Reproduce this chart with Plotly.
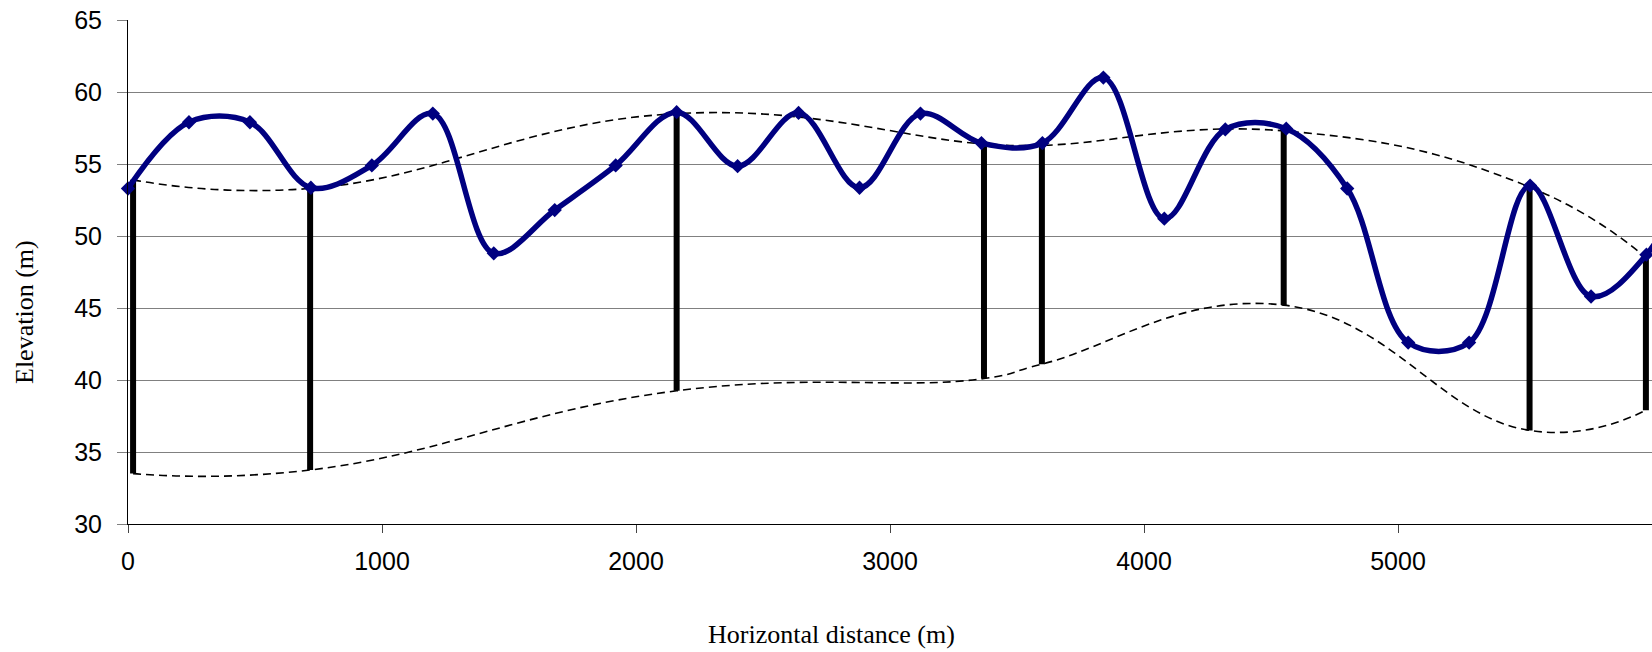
import plotly.graph_objects as go

# Ground profile (m)
profile_dist = [0, 240, 480, 720, 960, 1200, 1440, 1680, 1920, 2160, 2400, 2640, 2880,
                3120, 3360, 3600, 3840, 4080, 4320, 4560, 4800, 5040, 5280, 5520, 5760,
                5978, 6220]
profile_elev = [53.3, 57.9, 57.9, 53.35, 54.9, 58.5, 48.8, 51.8, 54.9, 58.6, 54.85, 58.55,
                53.35, 58.5, 56.45, 56.45, 61.0, 51.2, 57.4, 57.45, 53.3, 42.6, 42.6, 53.5,
                45.8, 48.7, 57.0]

# Boreholes: position, top and bottom elevation
bore_dist = [20, 717, 2160, 3370, 3598, 4550, 5518, 5976]
bore_top = [53.9, 53.3, 58.5, 56.4, 56.3, 57.3, 53.4, 48.5]
bore_bottom = [33.5, 33.75, 39.25, 40.1, 41.1, 45.2, 36.5, 37.9]

x_ticks = [0, 1000, 2000, 3000, 4000, 5000]
y_ticks = [30, 35, 40, 45, 50, 55, 60, 65]

fig = go.Figure()

# borehole sticks
bx, by = [], []
for d, t, b in zip(bore_dist, bore_top, bore_bottom):
    bx += [d, d, None]
    by += [b, t, None]
fig.add_trace(go.Scatter(x=bx, y=by, mode="lines",
                         line=dict(color="black", width=6), showlegend=False,
                         hoverinfo="skip"))

# upper and lower dashed envelopes
fig.add_trace(go.Scatter(x=bore_dist, y=bore_top, mode="lines",
                         line=dict(color="black", width=1.6, dash="8px,5px",
                                   shape="spline", smoothing=1.3),
                         showlegend=False))
fig.add_trace(go.Scatter(x=bore_dist, y=bore_bottom, mode="lines",
                         line=dict(color="black", width=1.6, dash="8px,5px",
                                   shape="spline", smoothing=1.3),
                         showlegend=False))

# ground profile
fig.add_trace(go.Scatter(x=profile_dist, y=profile_elev, mode="lines+markers",
                         line=dict(color="#000080", width=5.5, shape="spline", smoothing=1),
                         marker=dict(symbol="diamond", size=11, color="#000080"),
                         cliponaxis=False, showlegend=False))

fig.update_layout(
    width=1652, height=652,
    margin=dict(l=128, r=0, t=20, b=128),
    paper_bgcolor="white", plot_bgcolor="white",
    showlegend=False,
    font=dict(family="Liberation Sans, Arial, sans-serif", size=25, color="black"),
)

fig.update_xaxes(
    range=[0, 6000], tickvals=x_ticks, ticktext=[str(v) for v in x_ticks],
    showgrid=False, zeroline=False,
    showline=True, linecolor="black", linewidth=1,
    ticks="outside", ticklen=8, tickcolor="#444", tickwidth=1,
    ticklabelstandoff=7,
    tickfont=dict(family="Liberation Sans, Arial, sans-serif", size=25, color="black"),
)
fig.update_yaxes(
    range=[30, 65], tickvals=y_ticks,
    showgrid=True, gridcolor="#808080", gridwidth=1, zeroline=False,
    showline=True, linecolor="black", linewidth=1,
    ticks="outside", ticklen=10, tickcolor="#808080", tickwidth=1,
    ticklabelstandoff=10,
    tickfont=dict(family="Liberation Sans, Arial, sans-serif", size=25, color="black"),
)

fig.add_annotation(text="Horizontal distance (m)", xref="paper", yref="paper",
                   x=(831 - 128) / 1524, y=(524 - 634) / 504,
                   xanchor="center", yanchor="middle", showarrow=False,
                   font=dict(family="Liberation Serif, Times New Roman, serif", size=26, color="black"))
fig.add_annotation(text="Elevation (m)", xref="paper", yref="paper",
                   x=(25 - 128) / 1524, y=(524 - 312) / 504, textangle=-90,
                   xanchor="center", yanchor="middle", showarrow=False,
                   font=dict(family="Liberation Serif, Times New Roman, serif", size=26, color="black"))

fig.write_html("out.html")
